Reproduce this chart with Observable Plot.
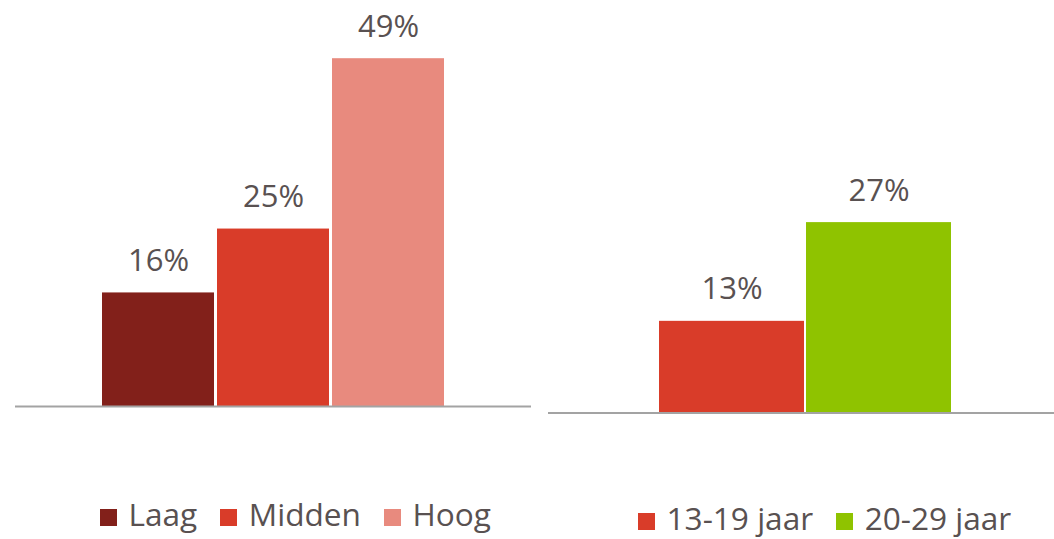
<!DOCTYPE html>
<html>
<head>
<meta charset="utf-8">
<script src="https://cdn.jsdelivr.net/npm/d3@7"></script>
<script src="https://cdn.jsdelivr.net/npm/@observablehq/plot@0.6"></script>
<style>
  html, body { margin: 0; padding: 0; background: #fff; }
  #wrap { position: relative; width: 1054px; height: 539px; overflow: hidden; font-family: "Open Sans", sans-serif; color: #595151; }
  .panel { position: absolute; top: 0; }
  .legend { position: absolute; display: flex; align-items: center; font-size: 31.6px; line-height: 1; white-space: nowrap; }
  .legend .item { display: flex; align-items: center; margin-right: 23px; }
  .legend .sw { width: 17px; height: 17px; margin-right: 11.5px; flex: none; position: relative; top: 3.5px; }
</style>
</head>
<body>
<div id="wrap">
  <div class="panel" id="left" style="left:0"></div>
  <div class="panel" id="right" style="left:540px"></div>
  <div class="legend" id="legLeft" style="left:100px; top:497.8px"></div>
  <div class="legend" id="legRight" style="left:638px; top:501.8px"></div>
</div>
<script>
// Data
const leftCats = ["Laag", "Midden", "Hoog"];
const leftValues = [16, 25, 49];
const leftColors = ["#82201a", "#d93c29", "#e88a7e"];

const rightCats = ["13-19 jaar", "20-29 jaar"];
const rightValues = [13, 27];
const rightColors = ["#d93c29", "#8fc300"];

const textColor = "#595151";

const leftData = leftCats.map((c, i) => ({cat: c, value: leftValues[i]}));
const rightData = rightCats.map((c, i) => ({cat: c, value: rightValues[i]}));

const leftPlot = Plot.plot({
  width: 540, height: 420,
  marginTop: 0, marginBottom: 14, marginLeft: 15, marginRight: 9,
  x: {domain: leftCats, range: [99, 447], padding: 0.026, axis: null},
  y: {domain: [0, 57.2], axis: null},
  color: {domain: leftCats, range: leftColors},
  style: {fontFamily: "Open Sans", background: "transparent", overflow: "visible"},
  marks: [
    Plot.barY(leftData, {x: "cat", y: "value", fill: "cat"}),
    Plot.ruleY([0], {stroke: "#a3a3a3", strokeWidth: 2}),
    Plot.text(leftData, {x: "cat", y: "value", text: d => d.value + "%", lineAnchor: "bottom", dy: -22, fontSize: 31, fill: textColor})
  ]
});
document.getElementById("left").appendChild(leftPlot);

const rightPlot = Plot.plot({
  width: 514, height: 425,
  marginTop: 0, marginBottom: 12.5, marginLeft: 8, marginRight: 0,
  x: {domain: rightCats, range: [117.5, 413], paddingInner: 0.017, paddingOuter: 0.01, axis: null},
  y: {domain: [0, 58.5], axis: null},
  color: {domain: rightCats, range: rightColors},
  style: {fontFamily: "Open Sans", background: "transparent", overflow: "visible"},
  marks: [
    Plot.barY(rightData, {x: "cat", y: "value", fill: "cat"}),
    Plot.ruleY([0], {stroke: "#a3a3a3", strokeWidth: 2}),
    Plot.text(rightData, {x: "cat", y: "value", text: d => d.value + "%", lineAnchor: "bottom", dy: -22, fontSize: 31, fill: textColor})
  ]
});
document.getElementById("right").appendChild(rightPlot);

function buildLegend(el, cats, colors) {
  cats.forEach((c, i) => {
    const item = document.createElement("div");
    item.className = "item";
    const sw = document.createElement("span");
    sw.className = "sw";
    sw.style.background = colors[i];
    const t = document.createElement("span");
    t.textContent = c;
    item.appendChild(sw);
    item.appendChild(t);
    el.appendChild(item);
  });
}
buildLegend(document.getElementById("legLeft"), leftCats, leftColors);
buildLegend(document.getElementById("legRight"), rightCats, rightColors);
</script>
</body>
</html>
